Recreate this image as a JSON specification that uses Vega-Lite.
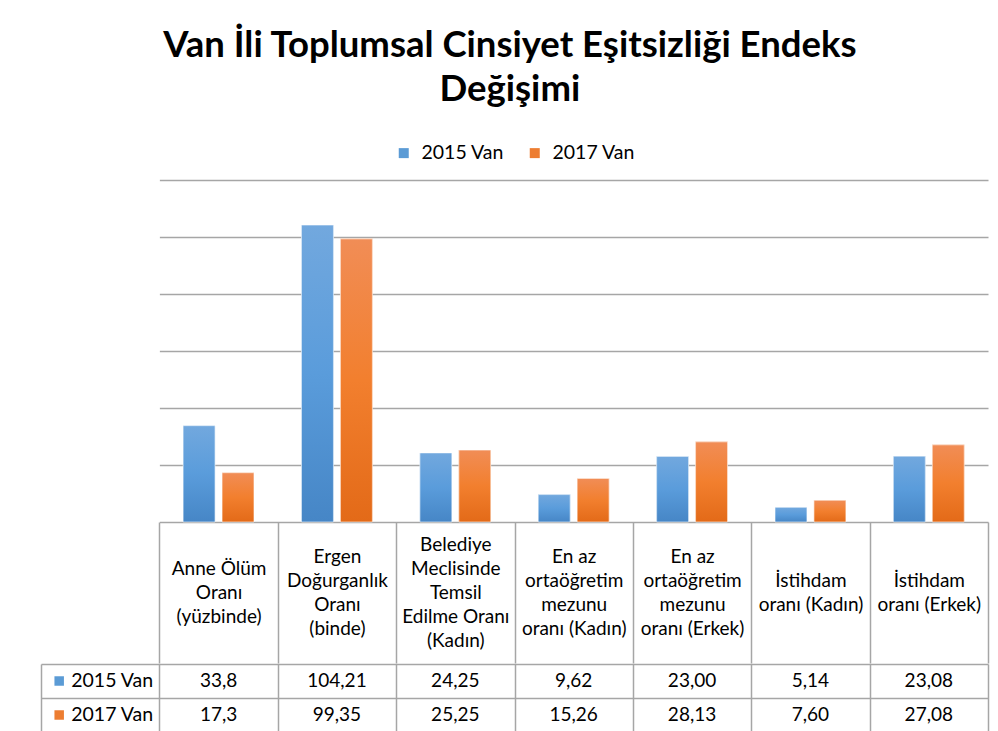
{
  "$schema": "https://vega.github.io/schema/vega-lite/v6.json",
  "padding": {"left": 41, "top": 27, "right": 5, "bottom": 5},
  "background": "#ffffff",
  "config": {
    "view": {"stroke": null},
    "legend": {"layout": {"top": {"anchor": "middle"}}}
  },
  "title": {
    "text": ["Van İli Toplumsal Cinsiyet Eşitsizliği Endeks", "Değişimi"],
    "font": "Lato", "fontSize": 36.5, "fontWeight": "bold", "lineHeight": 44,
    "anchor": "middle", "color": "#000000", "dx": -5, "offset": 35
  },
  "data": {
    "values": [
      {"cat": "Anne Ölüm\nOranı\n(yüzbinde)", "series": "2015 Van", "value": 33.8, "label": "33,8"},
      {"cat": "Anne Ölüm\nOranı\n(yüzbinde)", "series": "2017 Van", "value": 17.3, "label": "17,3"},
      {"cat": "Ergen\nDoğurganlık\nOranı\n(binde)", "series": "2015 Van", "value": 104.21, "label": "104,21"},
      {"cat": "Ergen\nDoğurganlık\nOranı\n(binde)", "series": "2017 Van", "value": 99.35, "label": "99,35"},
      {"cat": "Belediye\nMeclisinde\nTemsil\nEdilme Oranı\n(Kadın)", "series": "2015 Van", "value": 24.25, "label": "24,25"},
      {"cat": "Belediye\nMeclisinde\nTemsil\nEdilme Oranı\n(Kadın)", "series": "2017 Van", "value": 25.25, "label": "25,25"},
      {"cat": "En az\nortaöğretim\nmezunu\noranı (Kadın)", "series": "2015 Van", "value": 9.62, "label": "9,62"},
      {"cat": "En az\nortaöğretim\nmezunu\noranı (Kadın)", "series": "2017 Van", "value": 15.26, "label": "15,26"},
      {"cat": "En az\nortaöğretim\nmezunu\noranı (Erkek)", "series": "2015 Van", "value": 23.0, "label": "23,00"},
      {"cat": "En az\nortaöğretim\nmezunu\noranı (Erkek)", "series": "2017 Van", "value": 28.13, "label": "28,13"},
      {"cat": "İstihdam\noranı (Kadın)", "series": "2015 Van", "value": 5.14, "label": "5,14"},
      {"cat": "İstihdam\noranı (Kadın)", "series": "2017 Van", "value": 7.6, "label": "7,60"},
      {"cat": "İstihdam\noranı (Erkek)", "series": "2015 Van", "value": 23.08, "label": "23,08"},
      {"cat": "İstihdam\noranı (Erkek)", "series": "2017 Van", "value": 27.08, "label": "27,08"}
    ]
  },
  "spacing": 0,
  "vconcat": [
    {
      "width": 947,
      "height": 342,
      "encoding": {
        "x": {
          "field": "cat", "type": "nominal", "sort": null,
          "scale": {
            "domain": ["Anne Ölüm\nOranı\n(yüzbinde)", "Ergen\nDoğurganlık\nOranı\n(binde)", "Belediye\nMeclisinde\nTemsil\nEdilme Oranı\n(Kadın)", "En az\nortaöğretim\nmezunu\noranı (Kadın)", "En az\nortaöğretim\nmezunu\noranı (Erkek)", "İstihdam\noranı (Kadın)", "İstihdam\noranı (Erkek)"],
            "range": [118.375, 947], "paddingInner": 0, "paddingOuter": 0
          },
          "axis": {
            "title": null, "domain": false, "tickBand": "extent", "tickSize": 141,
            "tickColor": "#a6a6a6", "tickWidth": 1.5, "labelAngle": 0,
            "labelExpr": "split(datum.label, '\\n')",
            "labelPadding": {
              "condition": [
                {"test": "length(split(datum.value, '\\n')) == 2", "value": -82.5},
                {"test": "length(split(datum.value, '\\n')) == 3", "value": -94.5},
                {"test": "length(split(datum.value, '\\n')) == 4", "value": -106.5}
              ],
              "value": -118.5
            },
            "labelBaseline": "middle", "labelLineHeight": 24, "labelFont": "Lato",
            "labelFontSize": 19, "labelColor": "#000000", "labelLimit": 0,
            "labelOverlap": false, "grid": false
          }
        },
        "xOffset": {
          "field": "series", "type": "nominal",
          "scale": {"domain": ["2015 Van", "2017 Van"], "paddingInner": 0.18, "paddingOuter": 0.61}
        },
        "y": {
          "field": "value", "type": "quantitative",
          "scale": {"domain": [0, 120], "nice": false},
          "axis": {
            "title": null, "values": [0, 20, 40, 60, 80, 100, 120], "labels": false,
            "ticks": false, "domain": false, "grid": true, "gridColor": "#a6a6a6",
            "gridWidth": 1.5, "minExtent": 0, "maxExtent": 0
          }
        }
      },
      "layer": [
        {
          "mark": {"type": "bar"},
          "encoding": {
            "color": {
              "field": "series", "type": "nominal",
              "scale": {"domain": ["2015 Van", "2017 Van"], "range": ["#5b9bd5", "#ed7d31"]},
              "legend": {
                "orient": "top", "direction": "horizontal", "title": null,
                "symbolType": "square", "symbolSize": 100, "symbolStrokeWidth": 0,
                "labelFont": "Lato", "labelFontSize": 19.5, "labelColor": "#000000",
                "columnPadding": 20, "labelOffset": 8, "offset": 17
              }
            }
          }
        },
        {
          "transform": [{"filter": "datum.series == '2015 Van'"}],
          "mark": {
            "type": "bar", "stroke": "#ffffff", "strokeOpacity": 0.6, "strokeWidth": 1,
            "fill": {
              "x1": 0, "y1": 0, "x2": 0, "y2": 1, "gradient": "linear",
              "stops": [
                {"offset": 0, "color": "#72a8de"},
                {"offset": 0.5, "color": "#5a9cdb"},
                {"offset": 1, "color": "#4686c6"}
              ]
            }
          }
        },
        {
          "transform": [{"filter": "datum.series == '2017 Van'"}],
          "mark": {
            "type": "bar", "stroke": "#ffffff", "strokeOpacity": 0.6, "strokeWidth": 1,
            "fill": {
              "x1": 0, "y1": 0, "x2": 0, "y2": 1, "gradient": "linear",
              "stops": [
                {"offset": 0, "color": "#f18d56"},
                {"offset": 0.5, "color": "#f27f2e"},
                {"offset": 1, "color": "#e36a18"}
              ]
            }
          }
        }
      ]
    },
    {
      "width": 947,
      "height": 68,
      "encoding": {
        "x": {
          "field": "cat", "type": "nominal", "sort": null,
          "scale": {
            "domain": ["Seri", "Anne Ölüm\nOranı\n(yüzbinde)", "Ergen\nDoğurganlık\nOranı\n(binde)", "Belediye\nMeclisinde\nTemsil\nEdilme Oranı\n(Kadın)", "En az\nortaöğretim\nmezunu\noranı (Kadın)", "En az\nortaöğretim\nmezunu\noranı (Erkek)", "İstihdam\noranı (Kadın)", "İstihdam\noranı (Erkek)"],
            "paddingInner": 0, "paddingOuter": 0
          },
          "axis": {
            "title": null, "labels": false, "ticks": false, "domain": false,
            "grid": true, "tickBand": "extent", "gridColor": "#a6a6a6", "gridWidth": 1.5
          }
        },
        "y": {
          "field": "series", "type": "nominal",
          "scale": {"domain": ["2015 Van", "2017 Van"], "paddingInner": 0, "paddingOuter": 0},
          "axis": {
            "title": null, "labels": false, "ticks": false, "domain": false,
            "grid": true, "tickBand": "extent", "gridColor": "#a6a6a6", "gridWidth": 1.5,
            "minExtent": 0, "maxExtent": 0
          }
        }
      },
      "layer": [
        {
          "mark": {"type": "text", "font": "Lato", "fontSize": 19, "color": "#000000"},
          "encoding": {"text": {"field": "label"}}
        },
        {
          "transform": [{"aggregate": [{"op": "count", "as": "n"}], "groupby": ["series"]}],
          "mark": {"type": "point", "shape": "square", "filled": true, "size": 90, "opacity": 1, "xOffset": -41},
          "encoding": {
            "x": {"datum": "Seri", "type": "nominal"},
            "color": {"field": "series", "type": "nominal", "legend": null}
          }
        },
        {
          "transform": [{"aggregate": [{"op": "count", "as": "n"}], "groupby": ["series"]}],
          "mark": {"type": "text", "font": "Lato", "fontSize": 19.5, "color": "#000000", "dx": 12},
          "encoding": {
            "x": {"datum": "Seri", "type": "nominal"},
            "text": {"field": "series"}
          }
        }
      ]
    }
  ]
}
